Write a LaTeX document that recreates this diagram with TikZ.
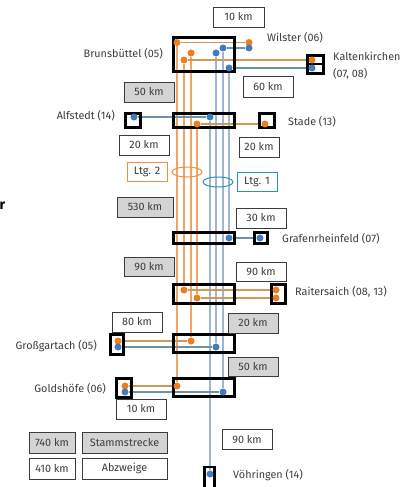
\documentclass[tikz,border=0pt]{standalone}
\usepackage{fontspec}
\setmainfont{Fira Sans}
\usetikzlibrary{shapes.geometric}
\definecolor{ltgorange}{HTML}{EE7D1E}
\definecolor{ltgblue}{HTML}{3F7CC0}
\definecolor{orangeline}{HTML}{F2A462}
\definecolor{blueline}{HTML}{9DB6D6}
\definecolor{orangelink}{HTML}{CE9A55}
\definecolor{bluelink}{HTML}{6A93A6}
\definecolor{ltgteal}{HTML}{2A93B5}
\definecolor{labelgray}{HTML}{3C3C3C}
\definecolor{boxgray}{HTML}{D4D4D4}
\pgfdeclarelayer{lines}
\pgfsetlayers{lines,main}
\begin{document}
\begin{tikzpicture}[x=1pt,y=-1pt,font=\fontsize{10.8}{17}\selectfont,text=labelgray,
	hub/.style={draw=black,line width=2.6pt,inner sep=0,minimum width=61pt,minimum height=#1},
	stopbox/.style={draw=black,line width=2.6pt,inner sep=0,minimum width=15pt,minimum height=#1},
	kmbox/.style={draw=labelgray,line width=0.8pt,fill=white,inner sep=0,minimum width=50pt,minimum height=20pt},
	kmgray/.style={kmbox,fill=boxgray},
	odot/.style={circle,fill=ltgorange,inner sep=0,minimum size=7pt},
	bdot/.style={circle,fill=ltgblue,inner sep=0,minimum size=7pt},
	oline/.style={orangeline,line width=1.2pt},
	bline/.style={blueline,line width=1.2pt},
	olink/.style={orangelink,line width=1.2pt},
	blink/.style={bluelink,line width=1.2pt},
	place/.style={inner sep=0}]
	\useasboundingbox (0,0) rectangle (406,487);
	% hubs on the trunk
	\node[hub=34] (brunsHub) at (204,54.5) {};
	\node[hub=14] (alfHub) at (204,120.5) {};
	\node[hub=11] (grafHub) at (204,238) {};
	\node[hub=19] (raitHub) at (204,294) {};
	\node[hub=18] (grossHub) at (204,343.5) {};
	\node[hub=18] (goldHub) at (204,387.5) {};
	% end points
	\node[stopbox=18,minimum width=16pt] (kaltBox) at (315.5,64.5) {};
	\draw[line width=2pt] (kaltBox.west) -- (kaltBox.east);
	\node[stopbox=14] (alfBox) at (133,120.5) {};
	\node[stopbox=14] (stadeBox) at (267,120.5) {};
	\node[stopbox=11,minimum width=13pt] (grafBox) at (261,238) {};
	\node[stopbox=19,minimum width=14pt] (raitBox) at (278.5,294) {};
	\node[stopbox=20,minimum width=13pt] (grossBox) at (117,344.5) {};
	\node[stopbox=19] (goldBox) at (124,388) {};
	\node[stopbox=24,minimum width=10pt] (voehBox) at (209.5,479) {};
	% dots
	\node[odot] (wilO) at (249,42.5) {};
	\node[bdot] (wilB) at (249,48) {};
	\node[odot] (brO1) at (177,42.5) {};
	\node[odot] (brO2) at (184,60) {};
	\node[odot] (brO3) at (191,53) {};
	\node[bdot] (brB2) at (216,53) {};
	\node[bdot] (brB3) at (223,48) {};
	\node[bdot] (brB4) at (229,68) {};
	\node[odot] (kaltO) at (312,60) {};
	\node[bdot] (kaltB) at (312,68) {};
	\node[bdot] (alfB) at (134,117) {};
	\node[bdot] (alfHubB) at (210,117) {};
	\node[odot] (stadeHubO) at (197,124) {};
	\node[odot] (stadeO) at (265,124) {};
	\node[bdot] (grafHubB) at (229,238) {};
	\node[bdot] (grafB) at (260,238) {};
	\node[odot] (raitHubO1) at (184,290) {};
	\node[odot] (raitO1) at (276,290) {};
	\node[odot] (raitHubO2) at (197,298) {};
	\node[odot] (raitO2) at (276,298) {};
	\node[odot] (grossHubO) at (191,341) {};
	\node[odot] (grossO) at (118,341) {};
	\node[bdot] (grossHubB) at (216,347) {};
	\node[bdot] (grossB) at (118,347) {};
	\node[odot] (goldHubO) at (177,386) {};
	\node[odot] (goldO) at (125,386) {};
	\node[bdot] (goldHubB) at (223,392) {};
	\node[bdot] (goldB) at (125,392) {};
	\node[bdot] (voehB) at (210,474) {};
	% lines
	\begin{pgfonlayer}{lines}
		\draw[oline] (brO1) -- (goldHubO);
		\draw[oline] (brO2) -- (raitHubO1);
		\draw[oline] (brO3) -- (grossHubO);
		\draw[oline] (stadeHubO) -- (raitHubO2);
		\draw[bline] (alfHubB) -- (voehB);
		\draw[bline] (brB2) -- (grossHubB);
		\draw[bline] (brB3) -- (goldHubB);
		\draw[bline] (brB4) -- (grafHubB);
		\draw[olink] (brO1) -- (wilO);
		\draw[blink] (brB3) -- (wilB);
		\draw[olink] (brO2) -- (kaltO);
		\draw[blink] (brB4) -- (kaltB);
		\draw[blink] (alfB) -- (alfHubB);
		\draw[olink] (stadeHubO) -- (stadeO);
		\draw[blink] (grafHubB) -- (grafB);
		\draw[olink] (raitHubO1) -- (raitO1);
		\draw[olink] (raitHubO2) -- (raitO2);
		\draw[olink] (grossO) -- (grossHubO);
		\draw[blink] (grossB) -- (grossHubB);
		\draw[olink] (goldO) -- (goldHubO);
		\draw[blink] (goldB) -- (goldHubB);
	\end{pgfonlayer}
	% rings
	\node[ellipse,draw=ltgorange!85,line width=1pt,minimum width=30pt,minimum height=10pt] (ltgTwoRing) at (187,172) {};
	\node[ellipse,draw=ltgteal,line width=1pt,minimum width=30pt,minimum height=10pt] (ltgOneRing) at (218,182) {};
	\node[kmbox,draw=ltgorange!85,minimum width=40pt,minimum height=19pt] (ltgTwo) at (147,171.5) {Ltg. 2};
	\node[kmbox,draw=ltgteal,minimum width=40pt,minimum height=19pt] (ltgOne) at (257,181.5) {Ltg. 1};
	% distances
	\node[kmbox,minimum width=51pt] (kmWil) at (238.5,17) {10 km};
	\node[kmbox,minimum height=21pt] (kmKalt) at (268,86.5) {60 km};
	\node[kmgray] (kmAlf) at (149,92) {50 km};
	\node[kmbox] (kmAlfB) at (144,145) {20 km};
	\node[kmbox,minimum width=40pt] (kmStade) at (259,147) {20 km};
	\node[kmgray,minimum width=56pt] (kmTrunkA) at (145,207) {530 km};
	\node[kmbox] (kmGraf) at (261,218) {30 km};
	\node[kmgray,minimum height=19pt] (kmTrunkB) at (149,266.5) {90 km};
	\node[kmbox,minimum height=19pt] (kmRait) at (261,271.5) {90 km};
	\node[kmbox] (kmGross) at (137,322) {80 km};
	\node[kmgray] (kmTrunkC) at (253,323) {20 km};
	\node[kmgray,minimum height=19pt] (kmTrunkD) at (253,366.5) {50 km};
	\node[kmbox] (kmGold) at (141,409) {10 km};
	\node[kmbox] (kmVoeh) at (247,439.5) {90 km};
	% legend
	\node[kmgray,minimum width=46pt,minimum height=21pt] (legStammKm) at (52,442.5) {740 km};
	\node[kmgray,minimum width=85pt,minimum height=21pt] (legStamm) at (124.5,442.5) {Stammstrecke};
	\node[kmbox,minimum width=46pt,minimum height=21pt] (legAbzKm) at (52,468.5) {410 km};
	\node[kmbox,minimum width=85pt,minimum height=21pt] (legAbz) at (124.5,468.5) {Abzweige};
	% names
	\node[place,anchor=west] (wilster) at (267,38) {Wilster (06)};
	\node[place,anchor=east] (brunsbuettel) at (163,54) {Brunsbüttel (05)};
	\node[place,anchor=west,align=left] (kaltenkirchen) at (333,65.5) {Kaltenkirchen\\(07, 08)};
	\node[place,anchor=east] (alfstedt) at (115,116) {Alfstedt (14)};
	\node[place,anchor=west] (stade) at (288,122) {Stade (13)};
	\node[place,anchor=west] (grafenrheinfeld) at (282,239) {Grafenrheinfeld (07)};
	\node[place,anchor=west] (raitersaich) at (295,292) {Raitersaich (08, 13)};
	\node[place,anchor=east] (grossgartach) at (97,346) {Großgartach (05)};
	\node[place,anchor=east] (goldshoefe) at (106,389) {Goldshöfe (06)};
	\node[place,anchor=west] (voehringen) at (233,475) {Vöhringen (14)};
	\node[place,anchor=base east,text=black,font=\bfseries\fontsize{14}{14}\selectfont] (cutR) at (5.5,209) {r};
\end{tikzpicture}
\end{document}
